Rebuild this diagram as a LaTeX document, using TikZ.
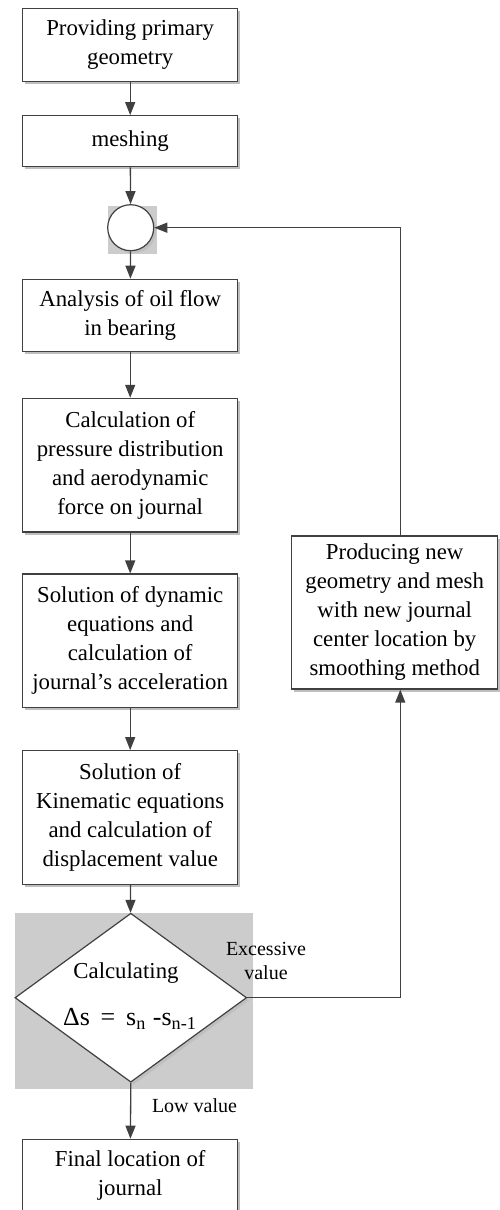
\documentclass[tikz,border=0pt]{standalone}
\usepackage{fontspec}
\setmainfont{Liberation Serif}
\usetikzlibrary{arrows.meta,shapes.geometric,shadows}

\tikzset{
  boxshadow/.style={drop shadow={shadow xshift=1.3pt, shadow yshift=-1.3pt, fill=black!25, opacity=1}},
  proc/.style={draw=black!75, line width=0.6pt, fill=white, minimum width=107.5pt, align=center,
    inner sep=1pt, font=\fontsize{11.4}{14.5}\selectfont, boxshadow},
  flow/.style={draw=black!75, line width=0.65pt, -{Triangle[length=6.5pt,width=5pt]}},
  lbl/.style={font=\fontsize{10}{12}\selectfont, align=center},
}

\begin{document}
\begin{tikzpicture}[x=0.5pt, y=-0.5pt]
\useasboundingbox (0,0) rectangle (499,1210);
% grey backgrounds
\fill[black!20] (108,206) rectangle (156.7,254.3);
\fill[black!20] (15,913.3) rectangle (252.7,1088.7);
% MAIN COLUMN
\node[proc, minimum height=36.7pt] (prov) at (130.2,45) {Providing primary\\geometry};
\node[proc, minimum height=25.5pt] (mesh) at (130.2,141.2) {meshing};
\node[circle, draw=black!75, line width=0.6pt, fill=white, minimum size=23pt, inner sep=0pt, boxshadow] (join) at (130.7,227.7) {};
\node[proc, minimum height=36.2pt] (oil) at (130.2,315.5) {Analysis of oil flow\\in bearing};
\node[proc, minimum height=66.85pt] (press) at (130.2,465.2) {Calculation of\\pressure distribution\\and aerodynamic\\force on journal};
\node[proc, minimum height=66.65pt] (dyn) at (130.2,640.7) {Solution of dynamic\\equations and\\calculation of\\journal’s acceleration};
\node[proc, minimum height=66.8pt] (kin) at (130.2,817.5) {Solution of\\Kinematic equations\\and calculation of\\displacement value};
\node[diamond, draw=black!75, line width=0.6pt, fill=white, minimum width=115.85pt, minimum height=84.5pt, inner sep=0pt, boxshadow] (dec) at (130.8,997.7) {};
\node[font=\fontsize{11.4}{14.5}\selectfont] (declab) at (126,973) {Calculating};
\node[font=\fontsize{13}{15}\selectfont] (decform) at (130,1019) {Δs \,=\, s\textsubscript{n} -s\textsubscript{n-1}};
\node[proc, minimum height=36.2pt] (fin) at (130.2,1175.5) {Final location of\\journal};
% RIGHT BRANCH
\node[proc, minimum width=103pt, minimum height=76.5pt] (prod) at (394.7,612.5) {Producing new\\geometry and mesh\\with new journal\\center location by\\smoothing method};
\coordinate (turn) at (400.3,997.7);
% connectors
\draw[flow] (prov) -- (mesh);
\draw[flow] (mesh) -- (join);
\draw[flow] (join) -- (oil);
\draw[flow] (oil) -- (press);
\draw[flow] (press) -- (dyn);
\draw[flow] (dyn) -- (kin);
\draw[flow] (kin) -- (dec);
\draw[flow] (dec.south) -- (fin);
\draw[flow] (dec.east) -- (turn) -- (turn |- prod.south);
\draw[flow] (turn |- prod.north) -- (turn |- join) -- (join.east);
\node[lbl] (exc) at (266,961) {Excessive\\value};
\node[lbl] (low) at (194.5,1106) {Low value};
\end{tikzpicture}
\end{document}
